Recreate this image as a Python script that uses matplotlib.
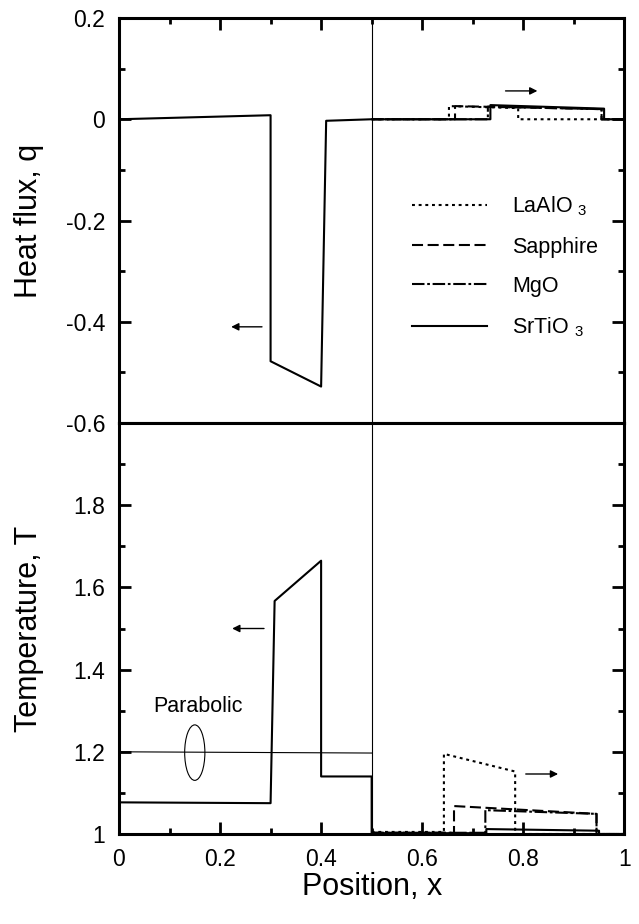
import matplotlib
matplotlib.use('agg')
import matplotlib.pyplot as plt
from matplotlib.patches import Ellipse
from matplotlib.ticker import MultipleLocator, FuncFormatter

plt.rcParams['font.family'] = ['Liberation Sans', 'DejaVu Sans']
plt.rcParams['mathtext.fontset'] = 'custom'
plt.rcParams['mathtext.rm'] = 'Liberation Sans'
plt.rcParams['mathtext.default'] = 'regular'
plt.rcParams['axes.unicode_minus'] = False

# heat flux q(x) -- film (0..0.5) plus SrTiO3 substrate
x_q_sto = [0, 0.30, 0.30, 0.40, 0.41, 0.5, 0.735, 0.735, 0.96, 0.96, 1.0]
q_sto = [0, 0.008, -0.478, -0.528, -0.003, 0, 0, 0.028, 0.021, 0, 0]
x_q_lao = [0.5, 0.653, 0.653, 0.79, 0.79, 1.0]
q_lao = [0, 0, 0.026, 0.022, 0, 0]
x_q_sap = [0.5, 0.665, 0.665, 0.955, 0.955, 1.0]
q_sap = [0, 0, 0.026, 0.020, 0, 0]
x_q_mgo = [0.5, 0.73, 0.73, 0.955, 0.955, 1.0]
q_mgo = [0, 0, 0.025, 0.020, 0, 0]

# temperature T(x)
x_t_sto = [0, 0.30, 0.308, 0.40, 0.40, 0.5, 0.5, 0.727, 0.727, 0.95, 0.95, 1.0]
t_sto = [1.077, 1.075, 1.567, 1.665, 1.140, 1.140, 1.002, 1.002, 1.012, 1.008, 1.0, 1.0]
x_t_lao = [0.5, 0.643, 0.643, 0.784, 0.784, 1.0]
t_lao = [1.005, 1.005, 1.195, 1.152, 1.0, 1.0]
x_t_sap = [0.5, 0.663, 0.663, 0.945, 0.945, 1.0]
t_sap = [1.003, 1.003, 1.068, 1.049, 1.0, 1.0]
x_t_mgo = [0.5, 0.725, 0.725, 0.945, 0.945, 1.0]
t_mgo = [1.003, 1.003, 1.058, 1.049, 1.0, 1.0]
x_parab = [0, 0.5]
t_parab = [1.2, 1.197]

labels = ['LaAlO $_3$', 'Sapphire', 'MgO', 'SrTiO $_3$']
styles = [(0, (1.4, 1.8)), (0, (5.3, 2.2)), (0, (6, 1.3, 1.3, 1.3)), '-']

fig = plt.figure(figsize=(6.39, 9.24), dpi=100)
ax_q = fig.add_axes([0.1862, 0.5422, 0.7908, 0.4383])
ax_t = fig.add_axes([0.1862, 0.0974, 0.7908, 0.4448])

fmt = FuncFormatter(lambda v, p: '%g' % round(v, 2))
for ax in (ax_q, ax_t):
    ax.set_xlim(0, 1)
    ax.xaxis.set_major_locator(MultipleLocator(0.2))
    ax.xaxis.set_minor_locator(MultipleLocator(0.1))
    ax.yaxis.set_minor_locator(MultipleLocator(0.1))
    ax.xaxis.set_major_formatter(fmt)
    ax.yaxis.set_major_formatter(fmt)
    ax.tick_params(which='both', direction='in', width=2, labelsize=16.5, pad=10, left=True, right=True)
    ax.tick_params(which='major', length=8.5)
    ax.tick_params(which='minor', length=4.5)
    for s in ax.spines.values():
        s.set_linewidth(2.2)
    ax.axvline(0.5, color='black', lw=0.8)

ax_q.tick_params(which='both', top=True, bottom=False, labelbottom=False)
ax_t.tick_params(which='both', top=False, bottom=True)

ax_q.set_ylim(-0.6, 0.2)
ax_q.yaxis.set_major_locator(MultipleLocator(0.2))
ax_t.set_ylim(1.0, 2.0)
ax_t.set_yticks([1.0, 1.2, 1.4, 1.6, 1.8])

lw = 1.5
h_lao, = ax_q.plot(x_q_lao, q_lao, color='black', lw=lw, ls=styles[0])
h_sap, = ax_q.plot(x_q_sap, q_sap, color='black', lw=lw, ls=styles[1])
h_mgo, = ax_q.plot(x_q_mgo, q_mgo, color='black', lw=lw, ls=styles[2])
h_sto, = ax_q.plot(x_q_sto, q_sto, color='black', lw=lw, ls=styles[3])

ax_t.plot(x_t_lao, t_lao, color='black', lw=lw, ls=styles[0])
ax_t.plot(x_t_sap, t_sap, color='black', lw=lw, ls=styles[1])
ax_t.plot(x_t_mgo, t_mgo, color='black', lw=lw, ls=styles[2])
ax_t.plot(x_t_sto, t_sto, color='black', lw=lw, ls=styles[3])
ax_t.plot(x_parab, t_parab, color='black', lw=0.8)

ax_q.legend([h_lao, h_sap, h_mgo, h_sto], labels, loc='center left',
            bbox_to_anchor=(0.58, 0.386), frameon=False, fontsize=15.5,
            handlelength=3.5, handletextpad=1.15, labelspacing=0.85,
            borderpad=0, borderaxespad=0)

arrow = dict(arrowstyle='-|>', color='black', lw=1.0, mutation_scale=11, shrinkA=0, shrinkB=0)
ax_q.annotate('', xy=(0.222, -0.41), xytext=(0.283, -0.41), arrowprops=arrow)
ax_q.annotate('', xy=(0.828, 0.056), xytext=(0.765, 0.056), arrowprops=arrow)
ax_t.annotate('', xy=(0.224, 1.5), xytext=(0.287, 1.5), arrowprops=arrow)
ax_t.annotate('', xy=(0.869, 1.146), xytext=(0.805, 1.146), arrowprops=arrow)

ax_t.add_patch(Ellipse((0.15, 1.198), 0.04, 0.135, fill=False, color='black', lw=0.8))
ax_t.text(0.156, 1.31, 'Parabolic', fontsize=15.5, ha='center', va='center')

ax_q.set_ylabel('Heat flux, q', fontsize=22)
ax_t.set_ylabel('Temperature, T', fontsize=22)
ax_t.set_xlabel('Position, x', fontsize=22)
ax_q.yaxis.set_label_coords(-0.149, 0.5)
ax_t.yaxis.set_label_coords(-0.149, 0.5)
ax_t.xaxis.set_label_coords(0.5, -0.092)

fig.savefig('out.png', dpi=100)
